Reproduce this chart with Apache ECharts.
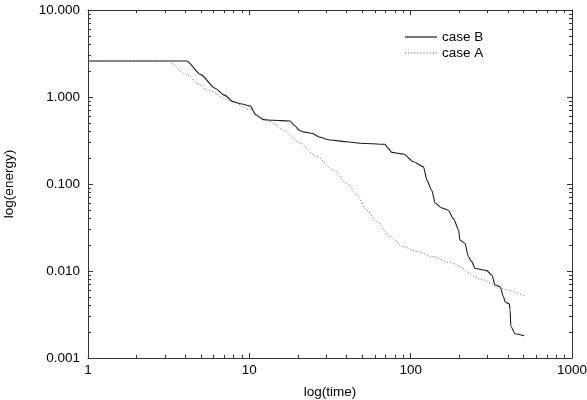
<!DOCTYPE html>
<html>
<head>
<meta charset="utf-8">
<script src="https://cdn.jsdelivr.net/npm/echarts@6/dist/echarts.min.js"></script>
<style>html,body{margin:0;padding:0;background:#fff;}#c{width:587px;height:400px;}</style>
</head>
<body>
<div id="c"></div>
<script>
var timeB = [1, 4.09, 5, 6.13, 7, 7.98, 9, 10.1, 11, 12.2, 14, 17.9, 19, 20.6, 22, 24.4, 27.4, 31.6, 40.2, 48.6, 69.4, 72, 76.4, 90.2, 104, 120, 126, 135, 142, 156, 171, 184, 198, 202, 217, 228, 239, 251, 296, 318, 334, 358, 376, 385, 409, 413, 418, 444, 505];
var energyB = [2.59, 2.59, 1.81, 1.26, 1.05, 0.88, 0.83, 0.79, 0.62, 0.55, 0.54, 0.53, 0.47, 0.41, 0.395, 0.383, 0.344, 0.32, 0.306, 0.294, 0.286, 0.26, 0.231, 0.221, 0.18, 0.158, 0.111, 0.085, 0.06, 0.053, 0.05, 0.04, 0.03, 0.0227, 0.0208, 0.0146, 0.0128, 0.0107, 0.0101, 0.009, 0.0069, 0.0066, 0.0051, 0.0044, 0.0042, 0.0036, 0.0023, 0.0019, 0.0018];
var timeA = [1, 3.13, 4, 5, 5.44, 7.98, 10, 12, 13.4, 16.2, 20.6, 26.2, 33.2, 40.2, 46.4, 53.4, 61.6, 74.5, 90.1, 109, 138, 175, 282, 358, 505];
var energyA = [2.59, 2.59, 1.85, 1.38, 1.2, 0.88, 0.72, 0.58, 0.52, 0.418, 0.294, 0.206, 0.145, 0.102, 0.0748, 0.0503, 0.0369, 0.0248, 0.019, 0.0167, 0.0146, 0.0125, 0.0079, 0.0063, 0.0052];
var seriesNames = ['case B', 'case A'];

function zip(a, b) { return a.map(function (v, i) { return [v, b[i]]; }); }

var FONT = 'Liberation Sans, Arial, Helvetica, sans-serif';
var AX = '#333';
var COLOR_B = '#1a1a1a';
var COLOR_A = '#666';

var dots = '';
for (var k = 0; k < 11; k++) { dots += 'M' + (k * 3) + ',0h1.2v1.2h-1.2z'; }

var chart = echarts.init(document.getElementById('c'), null, {renderer: 'canvas'});

function axisCommon(extra) {
  var base = {
    type: 'log', logBase: 10,
    axisLine: {show: true, lineStyle: {color: AX, width: 1}},
    axisTick: {show: true, inside: true, length: 5, lineStyle: {color: AX}},
    minorTick: {show: true, splitNumber: 9, length: 3, lineStyle: {color: AX}},
    splitLine: {show: false},
    minorSplitLine: {show: false}
  };
  for (var k in extra) base[k] = extra[k];
  return base;
}

var option = {
  backgroundColor: '#fff',
  animation: false,
  textStyle: {fontFamily: FONT},
  grid: {left: 88, right: 15, top: 10, bottom: 42, outerBoundsMode: 'none', containLabel: false},
  legend: {
    data: [
      {name: seriesNames[0], icon: 'path://M0,0h31v1.2h-31z'},
      {name: seriesNames[1], icon: 'path://' + dots}
    ],
    orient: 'vertical',
    left: 400, top: 24,
    itemWidth: 32, itemHeight: 1.2, itemGap: 0,
    symbolKeepAspect: false,
    textStyle: {fontFamily: FONT, fontSize: 13.5, color: '#000', lineHeight: 16}
  },
  xAxis: [axisCommon({
    min: 1, max: 1000, splitNumber: 3,
    name: 'log(time)', nameLocation: 'middle', nameGap: 27,
    nameTextStyle: {fontFamily: FONT, fontSize: 13.5, color: '#000'},
    axisLabel: {color: '#000', fontFamily: FONT, fontSize: 13.5, margin: 5, formatter: function (v) { return String(Math.round(v)); }}
  }), axisCommon({
    min: 1, max: 1000, splitNumber: 3, position: 'top',
    axisLabel: {show: false}
  })],
  yAxis: [axisCommon({
    min: 0.001, max: 10, splitNumber: 4,
    name: 'log(energy)', nameLocation: 'middle', nameGap: 72, nameRotate: 90,
    nameTextStyle: {fontFamily: FONT, fontSize: 13.5, color: '#000'},
    axisLabel: {color: '#000', fontFamily: FONT, fontSize: 13.5, margin: 8, formatter: function (v) { return v.toFixed(3); }}
  }), axisCommon({
    min: 0.001, max: 10, splitNumber: 4, position: 'right',
    axisLabel: {show: false}
  })],
  series: [{
    name: seriesNames[0], type: 'line', data: zip(timeB, energyB),
    symbol: 'none', smooth: 0.25, smoothMonotone: 'x',
    lineStyle: {color: COLOR_B, width: 1.1, type: 'solid'}, itemStyle: {color: COLOR_B}
  }, {
    name: seriesNames[1], type: 'line', data: zip(timeA, energyA),
    symbol: 'none', smooth: 0.3, smoothMonotone: 'x',
    lineStyle: {color: COLOR_A, width: 1, type: [1, 2]}, itemStyle: {color: COLOR_A}
  }]
};
chart.setOption(option);
</script>
</body>
</html>
